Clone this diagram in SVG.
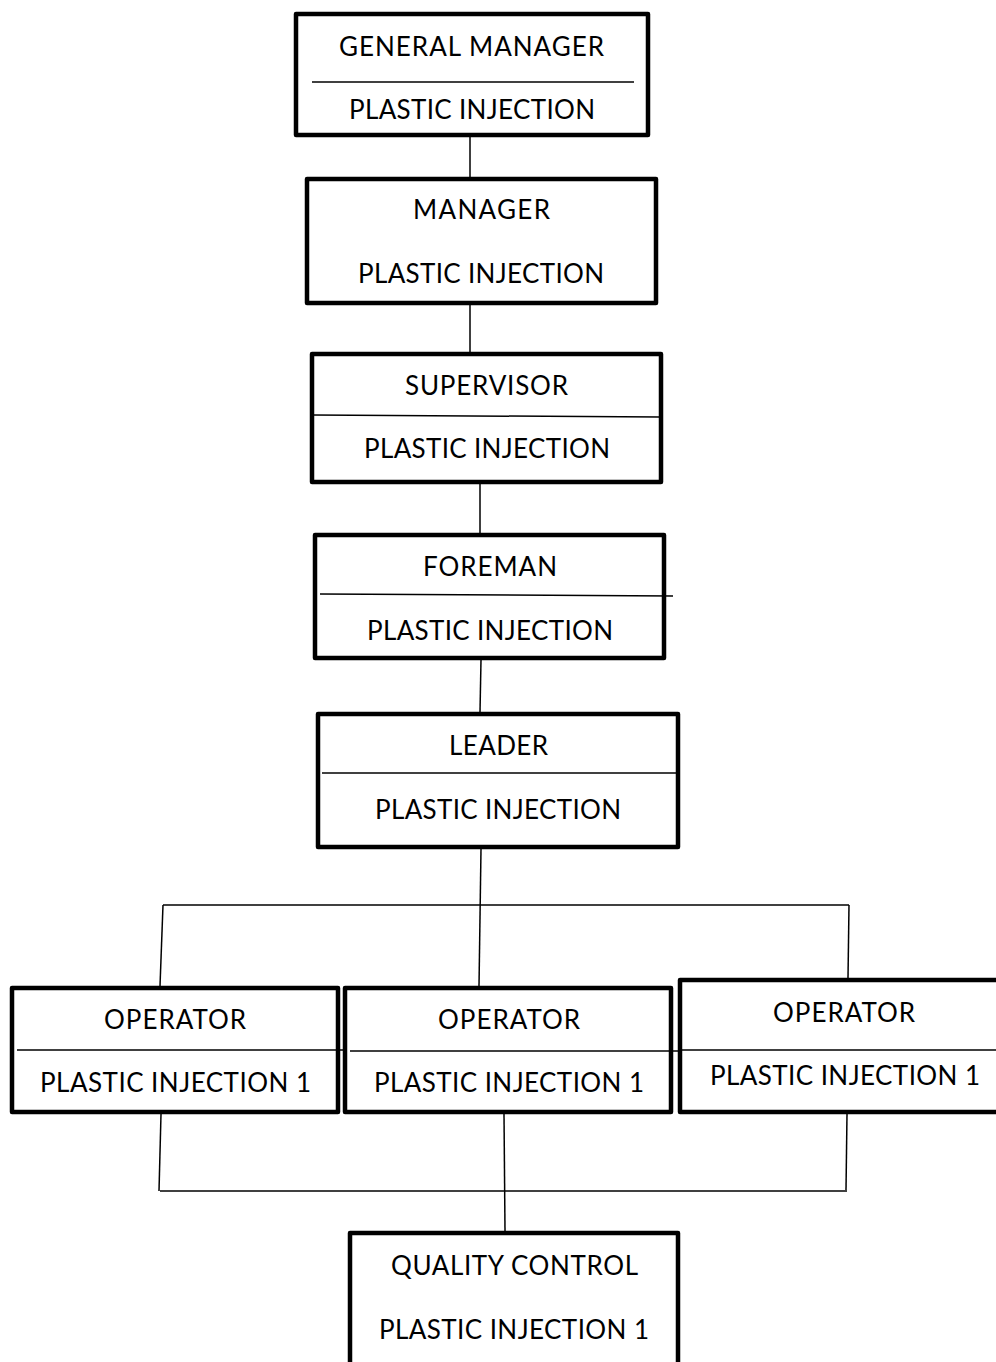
<svg xmlns="http://www.w3.org/2000/svg" width="996" height="1362" viewBox="0 0 996 1362">
<style>
.box{fill:#fff;stroke:#000;stroke-width:4.5;stroke-linejoin:round}
.div{stroke:#000;stroke-width:1.5;fill:none}
.con{stroke:#000;stroke-width:1.5;fill:none}
text{font-family:Lato,"Liberation Sans",sans-serif;font-size:26px;fill:#000;text-anchor:middle}
</style>
<rect width="996" height="1362" fill="#fff"/>
<g id="connectors">
<line class="con" x1="470" y1="137" x2="470" y2="177"/>
<line class="con" x1="470" y1="305" x2="470" y2="352"/>
<line class="con" x1="480" y1="484" x2="480" y2="533"/>
<line class="con" x1="481" y1="660" x2="480" y2="712"/>
<line class="con" x1="481" y1="849" x2="479" y2="986"/>
<line class="con" x1="163" y1="905" x2="849" y2="905"/>
<line class="con" x1="163" y1="905" x2="160" y2="986"/>
<line class="con" x1="849" y1="905" x2="848" y2="978"/>
<line class="con" x1="161" y1="1114" x2="159" y2="1191"/>
<line class="con" x1="504" y1="1114" x2="505" y2="1231"/>
<line class="con" x1="847" y1="1114" x2="846" y2="1190"/>
<line class="con" x1="160" y1="1191" x2="847" y2="1191"/>
</g>
<g id="general-manager">
<rect class="box" x="296" y="14" width="352" height="121"/>
<line class="div" x1="312" y1="82" x2="634" y2="82"/>
<text x="471.5" y="56" textLength="265">GENERAL MANAGER</text>
<text x="472" y="119" textLength="246">PLASTIC INJECTION</text>
</g>
<g id="manager">
<rect class="box" x="307" y="179" width="349" height="124"/>
<text x="481.5" y="219" textLength="137">MANAGER</text>
<text x="481" y="283" textLength="246">PLASTIC INJECTION</text>
</g>
<g id="supervisor">
<rect class="box" x="312" y="354" width="349" height="128"/>
<line class="div" x1="313" y1="415" x2="660" y2="417"/>
<text x="486.5" y="395" textLength="163">SUPERVISOR</text>
<text x="487" y="458" textLength="246">PLASTIC INJECTION</text>
</g>
<g id="foreman">
<rect class="box" x="315" y="535" width="349" height="123"/>
<line class="div" x1="320" y1="594" x2="673" y2="596"/>
<text x="490" y="576" textLength="134">FOREMAN</text>
<text x="490" y="640" textLength="246">PLASTIC INJECTION</text>
</g>
<g id="leader">
<rect class="box" x="318" y="714" width="360" height="133"/>
<line class="div" x1="322" y1="773" x2="678" y2="773"/>
<text x="498.5" y="755" textLength="99">LEADER</text>
<text x="498" y="819" textLength="246">PLASTIC INJECTION</text>
</g>
<g id="operator-1">
<rect class="box" x="12" y="988" width="326" height="124"/>
<line class="div" x1="17" y1="1050" x2="343" y2="1050"/>
<text x="175" y="1029" textLength="142">OPERATOR</text>
<text x="175.5" y="1092" textLength="271">PLASTIC INJECTION 1</text>
</g>
<g id="operator-2">
<rect class="box" x="345" y="988" width="326" height="124"/>
<line class="div" x1="350" y1="1051" x2="679" y2="1051"/>
<text x="509" y="1029" textLength="142">OPERATOR</text>
<text x="509" y="1092" textLength="270">PLASTIC INJECTION 1</text>
</g>
<g id="operator-3">
<rect class="box" x="680" y="980" width="340" height="132"/>
<line class="div" x1="680" y1="1050" x2="996" y2="1050"/>
<text x="844" y="1022" textLength="142">OPERATOR</text>
<text x="845" y="1085" textLength="270">PLASTIC INJECTION 1</text>
</g>
<g id="quality-control">
<rect class="box" x="350" y="1233" width="328" height="200"/>
<text x="514.5" y="1275" textLength="247">QUALITY CONTROL</text>
<text x="514" y="1339" textLength="270">PLASTIC INJECTION 1</text>
</g>
</svg>
